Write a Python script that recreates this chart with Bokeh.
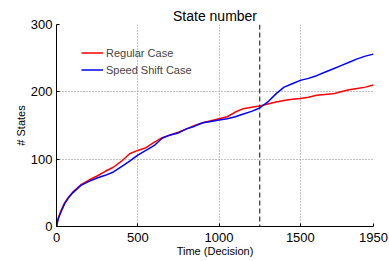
from bokeh.plotting import figure
from bokeh.models import Range1d, FixedTicker, Span, Legend, LegendItem
from bokeh.embed import file_html
from bokeh.resources import INLINE

x_vals = [0, 10, 25, 50, 75, 100, 150, 200, 250, 300, 350, 400, 450, 500, 550, 600, 650, 700, 750, 800,
          850, 900, 950, 1000, 1050, 1100, 1150, 1200, 1250, 1300, 1350, 1400, 1450, 1500, 1550, 1600,
          1650, 1700, 1750, 1800, 1850, 1900, 1950]
regular_case = [0, 12, 22, 35, 44, 51, 62, 69, 75, 82, 88, 97, 108, 113, 117, 125, 132, 136, 140, 145,
                150, 154, 157, 160, 163, 170, 175, 177, 179, 182, 185, 187, 189, 190, 192, 195,
                196, 197, 200, 203, 205, 207, 210]
speed_shift_case = [0, 11, 20, 34, 43, 50, 61, 67, 72, 76, 81, 89, 97, 106, 113, 120, 131, 136, 139, 145,
                    149, 154, 156, 158, 160, 163, 167, 171, 176, 185, 197, 207, 212, 217, 220, 224,
                    229, 234, 239, 244, 249, 253, 256]
shift_time = 1250
x_ticks = [0, 500, 1000, 1500, 1950]
y_ticks = [0, 100, 200, 300]

FONT = "Liberation Sans"

p = figure(width=389, height=261, output_backend="svg", toolbar_location=None,
           title="State number",
           x_range=Range1d(0, 1950), y_range=Range1d(0, 300),
           min_border_left=56, min_border_right=16, min_border_top=24, min_border_bottom=35)
p.outline_line_color = None
p.background_fill_color = "white"
p.border_fill_color = "white"

p.title.align = "center"
p.title.text_font = FONT
p.title.text_font_size = "14px"
p.title.text_font_style = "normal"
p.title.text_color = "black"
p.title.standoff = 2

for ax in (p.xaxis[0], p.yaxis[0]):
    ax.major_tick_in = 3
    ax.major_tick_out = 0
    ax.minor_tick_line_color = None
    ax.axis_line_color = "black"
    ax.major_tick_line_color = "black"
    ax.major_label_text_font = FONT
    ax.major_label_text_font_size = "13px"
    ax.major_label_text_color = "black"
    ax.axis_label_text_font = FONT
    ax.axis_label_text_font_size = "11px"
    ax.axis_label_text_font_style = "normal"
    ax.axis_label_text_color = "black"

p.xaxis.ticker = FixedTicker(ticks=x_ticks)
p.yaxis.ticker = FixedTicker(ticks=y_ticks)
p.xaxis.axis_label = "Time (Decision)"
p.yaxis.axis_label = "# States"
p.xaxis.major_label_standoff = 6
p.xaxis.axis_label_standoff = 0
p.yaxis.major_label_standoff = 4
p.yaxis.axis_label_standoff = 1

for g in (p.xgrid[0], p.ygrid[0]):
    g.grid_line_color = "#888888"
    g.grid_line_dash = "1 2"
    g.grid_line_width = 1

r1 = p.line(x_vals, regular_case, line_color="#ff0000", line_width=1.5)
r2 = p.line(x_vals, speed_shift_case, line_color="#0000ff", line_width=1.5)

p.add_layout(Span(location=shift_time, dimension="height", line_color="#333333",
                  line_dash="5 3", line_width=1.2))

legend = Legend(items=[LegendItem(label="Regular Case", renderers=[r1]),
                       LegendItem(label="Speed Shift Case", renderers=[r2])],
                location=(25, 148), padding=0, spacing=0, glyph_width=22, glyph_height=17,
                label_height=17, label_standoff=3, border_line_color=None,
                background_fill_alpha=0, label_text_font=FONT, label_text_font_size="11px")
p.add_layout(legend)

open("out.html", "w").write(file_html(p, INLINE))
